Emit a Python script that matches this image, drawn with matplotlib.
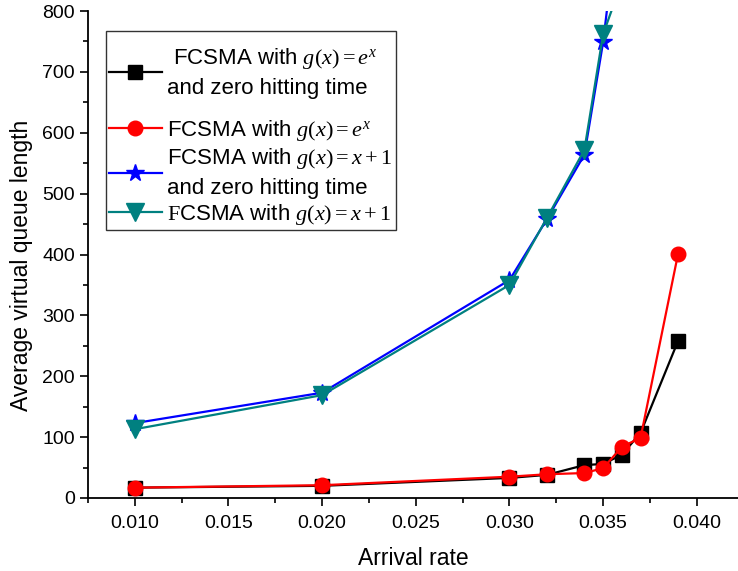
import matplotlib
matplotlib.use("Agg")
import matplotlib.pyplot as plt
from matplotlib.ticker import MultipleLocator, FormatStrFormatter
from matplotlib.offsetbox import DrawingArea

plt.rcParams["font.family"] = ["Liberation Sans", "DejaVu Sans"]
plt.rcParams["mathtext.fontset"] = "custom"
plt.rcParams["mathtext.rm"] = "Liberation Serif"
plt.rcParams["mathtext.it"] = "Liberation Serif:italic"

# Arrival rates
rates = [0.010, 0.020, 0.030, 0.032, 0.034, 0.035, 0.036, 0.037, 0.039]
rates_lin = [0.010, 0.020, 0.030, 0.032, 0.034, 0.035, 0.036]

# Average virtual queue length
exp_zero_hit = [17, 20, 33, 38, 54, 56, 71, 107, 258]
exp_fcsma = [17, 21, 35, 39, 41, 49, 84, 99, 401]
lin_zero_hit = [123, 173, 358, 458, 564, 749, 1007]
lin_fcsma = [113, 169, 350, 460, 572, 762, 848]

labels = [
    " FCSMA with $\\mathit{g(x)=e}^{\\mathit{x}}$\nand zero hitting time",
    "FCSMA with $\\mathit{g(x)=e}^{\\mathit{x}}$",
    "FCSMA with $\\mathit{g(x)=x+1}$\nand zero hitting time",
    "$\\mathrm{F}$CSMA with $\\mathit{g(x)=x+1}$",
]

fig = plt.figure(figsize=(7.38, 5.71), dpi=100)
ax = fig.add_axes([88 / 738, 73 / 571, 650 / 738, 487 / 571])

lw = 1.6
ax.plot(rates, exp_zero_hit, color="black", lw=lw, marker="s", ms=10, label=labels[0])
ax.plot(rates, exp_fcsma, color="red", lw=lw, marker="o", ms=10.5, label=labels[1])
ax.plot(rates_lin, lin_zero_hit, color="blue", lw=lw, marker="*", ms=13, label=labels[2])
ax.plot(rates_lin, lin_fcsma, color="#008080", lw=lw, marker="v", ms=13, label=labels[3])

ax.set_xlim(0.0075, 0.0422)
ax.set_ylim(0, 800)
ax.xaxis.set_major_locator(MultipleLocator(0.005))
ax.xaxis.set_minor_locator(MultipleLocator(0.0025))
ax.yaxis.set_major_locator(MultipleLocator(100))
ax.yaxis.set_minor_locator(MultipleLocator(50))
ax.xaxis.set_major_formatter(FormatStrFormatter("%.3f"))

for s in ("top", "right"):
    ax.spines[s].set_visible(False)
for s in ("left", "bottom"):
    ax.spines[s].set_linewidth(1.3)

ax.tick_params(which="major", direction="out", length=6, width=1.2, labelsize=14)
ax.tick_params(which="minor", direction="out", length=3.5, width=1.2)
ax.tick_params(axis="x", pad=6)

ax.set_xlabel("Arrival rate", fontsize=16.5, labelpad=11)
ax.set_ylabel("Average virtual queue length", fontsize=16.5)
ax.yaxis.set_label_coords(-0.085, 0.477)

leg = ax.legend(
    loc="upper left",
    bbox_to_anchor=(106 / 738, 1 - 31 / 571),
    bbox_transform=fig.transFigure,
    fontsize=16,
    frameon=True,
    fancybox=False,
    edgecolor="black",
    handlelength=2.35,
    handletextpad=0.25,
    borderpad=0.15,
    labelspacing=0.15,
    borderaxespad=0,
)
leg.get_frame().set_linewidth(1.0)
for t in leg.get_texts():
    t.set_linespacing(1.42)

# extra room above the superscripted entries
column = leg._legend_handle_box.get_children()[0]
entries = column.get_children()
entries.insert(1, DrawingArea(0, 8.9))
entries.insert(0, DrawingArea(0, 5.9))

fig.savefig("out.png", dpi=100)
